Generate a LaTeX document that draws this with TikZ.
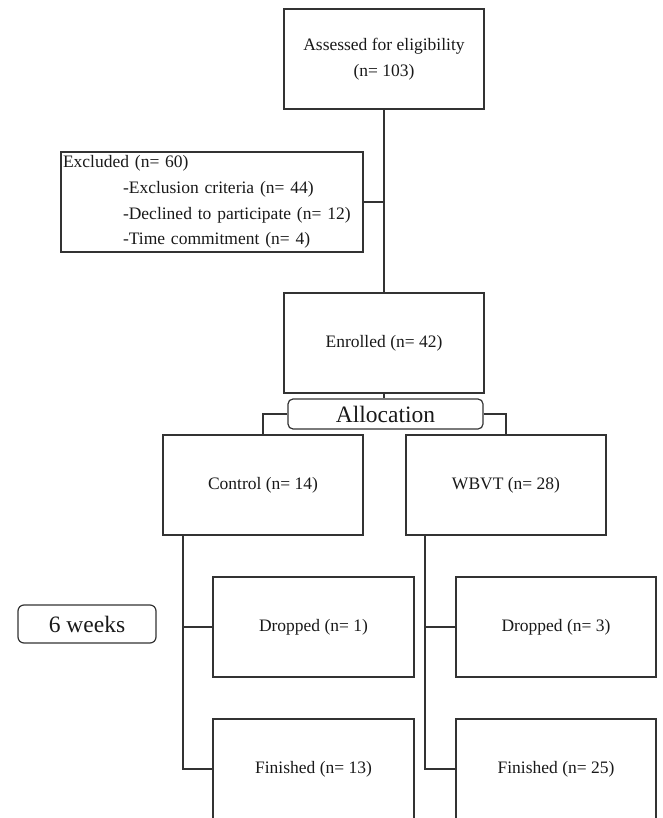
\documentclass[tikz,border=0pt]{standalone}
\usepackage{fontspec}
\setmainfont{Liberation Serif}
\newfontfamily\tmsfont{Liberation Serif}
\begin{document}
\begin{tikzpicture}[x=1pt,y=-1pt,
  every node/.style={font=\tmsfont\fontsize{17.5}{25.7}\selectfont, text=black!90},
  box/.style={draw=black!80, line width=1.4pt, minimum width=200pt, minimum height=100pt, inner sep=2pt, align=center},
  rbox/.style={draw=black!80, line width=1.2pt, rounded corners=5pt, inner sep=0pt, font=\tmsfont\fontsize{23.5}{26}\selectfont},
  conn/.style={draw=black!80, line width=1.4pt}]
\clip (0,0) rectangle (662,818);
\node[box] (assess) at (384,59) {Assessed for eligibility\\(n= 103)};
\node[box, minimum width=302pt, text width=298pt, align=left] (excl) at (212,202)
  {Excluded (n= 60)\\
   \hspace*{60pt}-Exclusion criteria (n= 44)\\
   \hspace*{60pt}-Declined to participate (n= 12)\\
   \hspace*{60pt}-Time commitment (n= 4)};
\node[box] (enrol) at (384,343) {Enrolled (n= 42)};
\node[rbox, minimum width=195pt, minimum height=30pt] (alloc) at (385.5,414) {Allocation};
\node[box] (control) at (263,485) {Control (n= 14)};
\node[box] (wbvt) at (506,485) {WBVT (n= 28)};
\node[box, minimum width=201pt] (drop1) at (313.5,627) {Dropped (n= 1)};
\node[box, minimum width=201pt] (fin1) at (313.5,769) {Finished (n= 13)};
\node[box] (drop2) at (556,627) {Dropped (n= 3)};
\node[box] (fin2) at (556,769) {Finished (n= 25)};
\node[rbox, minimum width=138pt, minimum height=38pt, rounded corners=6pt] (six) at (87,624) {6 weeks};
\coordinate (jx) at (enrol.north |- excl.east);
\coordinate (cl) at ([xshift=20.5pt]control.south west);
\coordinate (cr) at ([xshift=19.5pt]wbvt.south west);
\draw[conn] (assess.south) -- (enrol.north);
\draw[conn] (excl.east) -- (jx);
\draw[conn] (enrol.south) -- (enrol.south |- alloc.north);
\draw[conn] (alloc.west) -| (control.north);
\draw[conn] (alloc.east) -| (wbvt.north);
\draw[conn] (cl) |- (drop1.west);
\draw[conn] (cl) |- (fin1.west);
\draw[conn] (cr) |- (drop2.west);
\draw[conn] (cr) |- (fin2.west);
\end{tikzpicture}
\end{document}
